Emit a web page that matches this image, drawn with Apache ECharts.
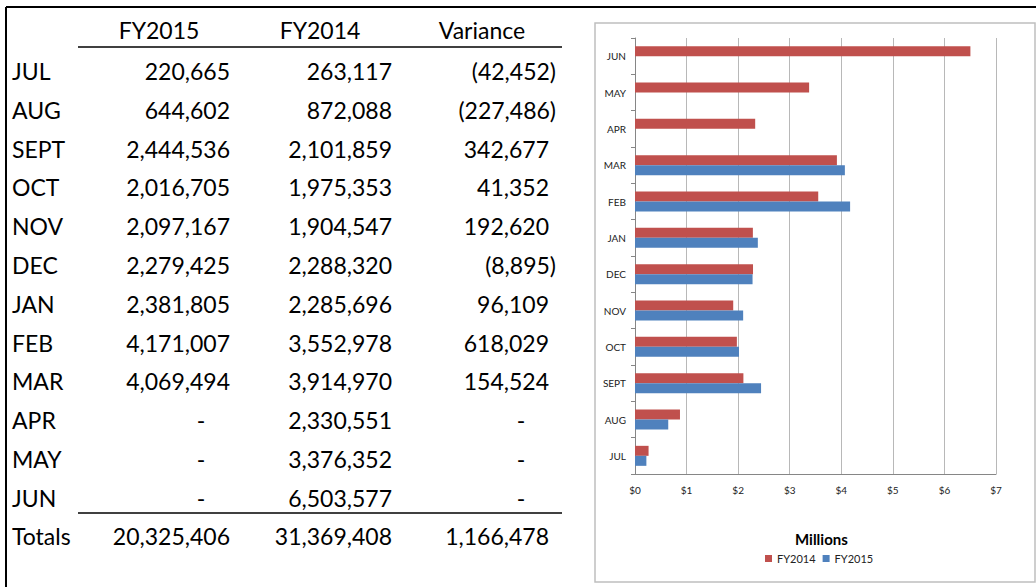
<!DOCTYPE html>
<html>
<head>
<meta charset="utf-8">
<title>FY2015 vs FY2014</title>
<script src="https://cdn.jsdelivr.net/npm/echarts@6/dist/echarts.min.js"></script>
<style>
  html, body { margin: 0; padding: 0; background: #fff; }
  #main { width: 1036px; height: 587px; }
</style>
</head>
<body>
<div id="main"></div>
<script>
// table rows top-to-bottom, chart categories bottom-to-top
const months = ['JUL', 'AUG', 'SEPT', 'OCT', 'NOV', 'DEC', 'JAN', 'FEB', 'MAR', 'APR', 'MAY', 'JUN'];
const fy2015 = [220665, 644602, 2444536, 2016705, 2097167, 2279425, 2381805, 4171007, 4069494, null, null, null];
const fy2014 = [263117, 872088, 2101859, 1975353, 1904547, 2288320, 2285696, 3552978, 3914970, 2330551, 3376352, 6503577];
const variance = [-42452, -227486, 342677, 41352, 192620, -8895, 96109, 618029, 154524, null, null, null];
const totals = [20325406, 31369408, 1166478];
const headers = ['FY2015', 'FY2014', 'Variance'];
const seriesNames = ['FY2014', 'FY2015'];

const FONT = '23px Lato';

function fmt(v) {
  const s = String(Math.abs(v)).replace(/\B(?=(\d{3})+(?!\d))/g, ',');
  return v < 0 ? '(' + s + ')' : s;
}

function txt(str, x, y, align, font) {
  return {
    type: 'text',
    x: x,
    y: y,
    style: {
      text: str,
      font: font || FONT,
      fill: '#000',
      align: align,
      verticalAlign: 'middle'
    }
  };
}

function line(x1, y1, x2, y2, w) {
  return {
    type: 'line',
    shape: { x1: x1, y1: y1, x2: x2, y2: y2 },
    style: { stroke: '#000', lineWidth: w || 1.5 }
  };
}

function buildTable() {
  const els = [];
  // page frame
  els.push(line(6, 7, 1036, 7, 2));
  els.push(line(6, 7, 6, 587, 2));
  // headers
  els.push(txt(headers[0], 159, 30, 'center'));
  els.push(txt(headers[1], 320, 30, 'center'));
  els.push(txt(headers[2], 482, 30, 'center'));
  els.push(line(78, 47, 562, 47));

  const rowY = i => 71 + i * 38.8;
  months.forEach((m, i) => {
    const y = rowY(i);
    els.push(txt(m, 12, y, 'left'));
    if (fy2015[i] == null) els.push(txt('-', 201, y, 'center'));
    else els.push(txt(fmt(fy2015[i]), 230, y, 'right'));
    els.push(txt(fmt(fy2014[i]), 392, y, 'right'));
    if (variance[i] == null) els.push(txt('-', 521, y, 'center'));
    else if (variance[i] < 0) els.push(txt(fmt(variance[i]), 556, y, 'right'));
    else els.push(txt(fmt(variance[i]), 549, y, 'right'));
  });

  els.push(line(78, 513, 562, 513));
  els.push(txt('Totals', 12, 536, 'left'));
  els.push(txt(fmt(totals[0]), 230, 536, 'right'));
  els.push(txt(fmt(totals[1]), 392, 536, 'right'));
  els.push(txt(fmt(totals[2]), 549, 536, 'right'));

  // chart box
  els.push({
    type: 'rect',
    z: -1,
    shape: { x: 595, y: 23, width: 440, height: 559 },
    style: { fill: '#fff', stroke: '#bfbfbf', lineWidth: 1.5 }
  });
  return els;
}

const chart = echarts.init(document.getElementById('main'), null, { renderer: 'svg' });

const option = {
  animation: false,
  backgroundColor: '#fff',
  textStyle: { fontFamily: 'Lato' },
  title: {
    text: 'Millions',
    left: 795,
    top: 531,
    padding: 0,
    textStyle: { fontFamily: 'Lato', fontSize: 15, fontWeight: 'bold', color: '#000' }
  },
  legend: {
    data: seriesNames,
    left: 765,
    top: 553,
    padding: 0,
    icon: 'rect',
    itemWidth: 7,
    itemHeight: 7,
    itemGap: 7,
    textStyle: { fontFamily: 'Lato', fontSize: 11, color: '#222' }
  },
  grid: {
    left: 635,
    right: 40,
    top: 38,
    bottom: 113,
    outerBoundsMode: 'none'
  },
  xAxis: {
    type: 'value',
    min: 0,
    max: 7,
    interval: 1,
    axisLine: { show: true, lineStyle: { color: '#868686', width: 1 } },
    axisTick: { show: false },
    splitLine: { show: true, lineStyle: { color: '#b8b8b8', width: 1 } },
    axisLabel: {
      margin: 11,
      fontFamily: 'Lato',
      fontSize: 10,
      color: '#222',
      formatter: v => '$' + v
    }
  },
  yAxis: {
    type: 'category',
    data: months,
    axisLine: { show: true, lineStyle: { color: '#868686', width: 1 } },
    axisTick: { show: true, length: 4, lineStyle: { color: '#868686' } },
    splitLine: { show: false },
    axisLabel: { margin: 9, fontFamily: 'Lato', fontSize: 10, color: '#222' }
  },
  series: [
    {
      name: seriesNames[0],
      type: 'bar',
      data: fy2014.map(v => v / 1e6),
      barWidth: 10,
      barGap: '0%',
      itemStyle: { color: '#C0504D' }
    },
    {
      name: seriesNames[1],
      type: 'bar',
      data: fy2015.map(v => (v == null ? null : v / 1e6)),
      barWidth: 10,
      barGap: '0%',
      itemStyle: { color: '#4F81BD' }
    }
  ],
  graphic: { elements: buildTable() }
};

chart.setOption(option);
</script>
</body>
</html>
